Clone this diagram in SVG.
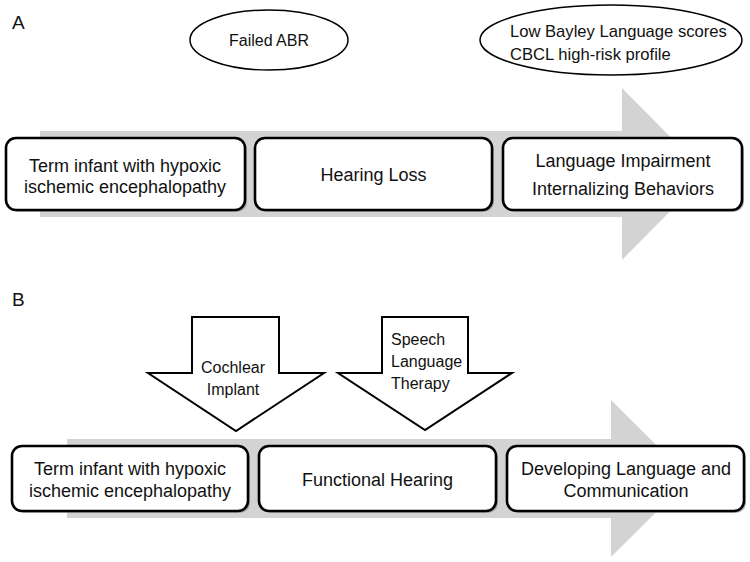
<svg xmlns="http://www.w3.org/2000/svg" width="750" height="562" viewBox="0 0 750 562">
<style>
  .box { fill: #fff; stroke: #000; stroke-width: 2.6; }
  .shadow { fill: #8a8a8a; opacity: 0.6; }
  .ell { fill: #fff; stroke: #000; stroke-width: 1.5; }
  .down { fill: #fff; stroke: #000; stroke-width: 2; stroke-linejoin: miter; }
  .flow { fill: #d3d3d3; }
  text { font-family: "Liberation Sans", Arial, sans-serif; font-size: 16px; fill: #111; }
  .c { text-anchor: middle; }
  .bt { font-size: 18px; }
  .et { font-size: 16.6px; }
  .lbl { font-size: 19px; }
</style>
<rect width="750" height="562" fill="#fff"/>
<text class="lbl" x="12" y="29">A</text>
<text class="lbl" x="12" y="306">B</text>

<g id="connectors">
  <polygon class="flow" points="40,131 622,131 622,88 707,174 622,260 622,217 40,217"/>
  <polygon class="flow" points="67,439 611,439 611,400 690,478.5 611,557 611,518 67,518"/>
</g>

<g id="failed-abr">
  <ellipse class="ell" cx="269" cy="40" rx="79" ry="30"/>
  <text class="c" x="269" y="46">Failed ABR</text>
</g>
<g id="bayley">
  <ellipse class="ell" cx="611" cy="40" rx="131" ry="35"/>
  <text class="et" x="510" y="37">Low Bayley Language scores</text>
  <text class="et" x="510" y="60">CBCL high-risk profile</text>
</g>

<g id="a-term">
  <rect class="shadow" x="8" y="140" width="239" height="72" rx="10"/>
  <rect class="box" x="6" y="138" width="239" height="72" rx="10"/>
  <text class="c bt" x="125" y="172">Term infant with hypoxic</text>
  <text class="c bt" x="125" y="193">ischemic encephalopathy</text>
</g>
<g id="a-hearing-loss">
  <rect class="shadow" x="257" y="140" width="237" height="72" rx="10"/>
  <rect class="box" x="255" y="138" width="237" height="72" rx="10"/>
  <text class="c bt" x="373.5" y="181">Hearing Loss</text>
</g>
<g id="a-language">
  <rect class="shadow" x="505" y="140" width="239" height="72" rx="10"/>
  <rect class="box" x="503" y="138" width="239" height="72" rx="10"/>
  <text class="c bt" x="623" y="167">Language Impairment</text>
  <text class="c bt" x="623" y="195">Internalizing Behaviors</text>
</g>

<g id="cochlear-implant">
  <polygon class="down" points="192,317 279,317 279,373 324,373 236,431 148,373 192,373"/>
  <text class="c" x="233" y="373">Cochlear</text>
  <text class="c" x="233" y="395">Implant</text>
</g>
<g id="speech-therapy">
  <polygon class="down" points="382,317 468,317 468,373 512,373 425,430 338,373 382,373"/>
  <text x="391" y="345">Speech</text>
  <text x="391" y="367">Language</text>
  <text x="391" y="389">Therapy</text>
</g>

<g id="b-term">
  <rect class="shadow" x="14" y="448" width="236" height="65" rx="10"/>
  <rect class="box" x="12" y="446" width="236" height="65" rx="10"/>
  <text class="c bt" x="130" y="475">Term infant with hypoxic</text>
  <text class="c bt" x="130" y="497">ischemic encephalopathy</text>
</g>
<g id="b-functional-hearing">
  <rect class="shadow" x="261" y="448" width="237" height="65" rx="10"/>
  <rect class="box" x="259" y="446" width="237" height="65" rx="10"/>
  <text class="c bt" x="377.5" y="486">Functional Hearing</text>
</g>
<g id="b-developing">
  <rect class="shadow" x="509" y="448" width="237" height="65" rx="10"/>
  <rect class="box" x="507" y="446" width="237" height="65" rx="10"/>
  <text class="c bt" x="626" y="475">Developing Language and</text>
  <text class="c bt" x="626" y="497">Communication</text>
</g>
</svg>
